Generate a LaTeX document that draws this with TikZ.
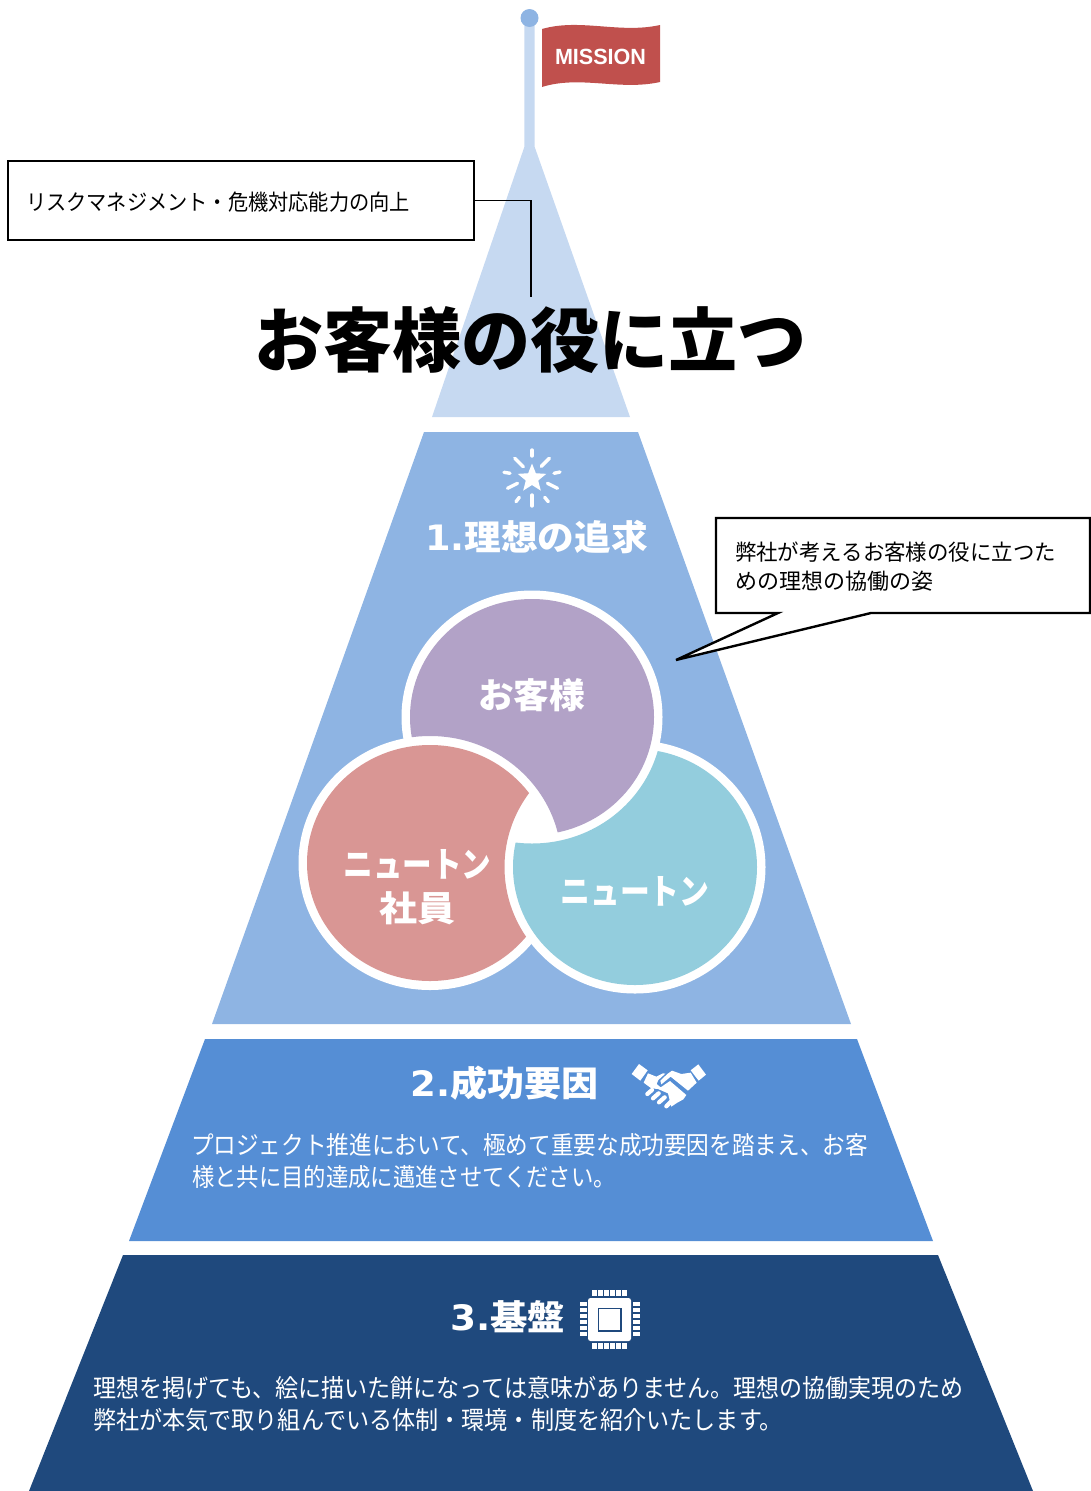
\documentclass[tikz,border=0pt]{standalone}
\usepackage{fontspec}
\usepackage{graphicx}
\usetikzlibrary{shapes.geometric}
\setmainfont{Noto Sans CJK JP}
\newfontfamily\latinb{DejaVu Sans Bold}
\newfontfamily\missionf{Liberation Sans Bold}
\newcommand{\fitw}[2]{\resizebox{#1pt}{\height}{#2}}
\definecolor{cTop}{HTML}{C6D9F1}
\definecolor{cOne}{HTML}{8EB4E3}
\definecolor{cTwo}{HTML}{558ED5}
\definecolor{cThree}{HTML}{1F497D}
\definecolor{cPurple}{HTML}{B2A2C7}
\definecolor{cPink}{HTML}{D99694}
\definecolor{cTeal}{HTML}{93CDDD}
\definecolor{cFlag}{HTML}{C0504D}
\tikzset{
  txt/.style={inner sep=0pt,outer sep=0pt,anchor=center},
  circlab/.style={txt,text=white,font=\fontsize{35}{35}\selectfont\bfseries},
  headlab/.style={txt,text=white,font=\fontsize{35}{35}\selectfont\bfseries},
  para/.style={txt,anchor=west,text=white,font=\fontsize{25}{25}\selectfont},
  note/.style={txt,anchor=west,text=black,font=\fontsize{22}{22}\selectfont},
  ray/.style={white,line width=3.4pt,line cap=round},
  finger/.style={white,line width=4.2pt,line cap=round},
}
\begin{document}
\begin{tikzpicture}[x=1pt,y=-1pt]
\useasboundingbox (0,0) rectangle (1091,1491);
% pyramid
\fill[cTop] (524.3,25) -- (534.7,25) -- (534.7,147) -- (630,417) -- (432,417) -- (524.3,147) -- cycle;
\fill[cOne] (529.5,18) circle[radius=9];
\fill[cOne] (424,432) -- (638,432) -- (851,1024) -- (212,1024) -- cycle;
\fill[cTwo] (205,1039) -- (857,1039) -- (933,1241) -- (129,1241) -- cycle;
\fill[cThree] (123,1255) -- (938,1255) -- (1033,1491) -- (29,1491) -- cycle;
% flag
\fill[cFlag] (542,29) .. controls (580,18) and (620,34) .. (660,25) -- (660,82) .. controls (620,91) and (580,75) .. (542,87) -- cycle;
\node[txt,text=white,font=\missionf\fontsize{22}{22}\selectfont] (mission) at (600.5,56.5) {\fitw{91}{MISSION}};
% callout 1
\node[draw=black,line width=2.4pt,fill=white,minimum width=466pt,minimum height=79pt,inner sep=0pt,outer sep=0pt,anchor=north west] (riskbox) at (8,161) {};
\node[note] (risktext) at (26,202) {\fitw{384}{リスクマネジメント・危機対応能力の向上}};
\coordinate (riskend) at (531,297);
\draw[black,line width=1.8pt] (riskbox.east) -- (riskend |- riskbox.east) -- (riskend);
% title
\node[txt,text=black,font=\fontsize{70}{70}\selectfont\bfseries] (title) at (530.5,340) {\fitw{553}{お客様の役に立つ}};
% callout 2
\fill[white,draw=black,line width=2.4pt,line join=miter] (716,518) -- (1090,518) -- (1090,613) -- (871,613) -- (676,660) -- (778,613) -- (716,613) -- cycle;
\node[note] (cust1) at (735,552) {\fitw{321}{弊社が考えるお客様の役に立つた}};
\node[note] (cust2) at (735,581) {\fitw{198}{めの理想の協働の姿}};
% star icon
\node[star,star points=5,star point ratio=2.3,fill=white,minimum size=30pt,inner sep=0pt] (staricon) at (532,478.5) {};
\foreach \a/\b/\c/\d in {532/450/532/456, 514.7/458.3/523.3/466.7, 549.3/458.3/541.3/466.3, 504/472.3/510/473.3, 554/473.3/560/472, 507.5/488.3/517.5/483.3, 547.5/483.3/557.5/488.3, 516/501.7/519.3/497.3, 544.7/497.3/548.3/501.7, 532/495/532/506}
  \draw[ray] (\a,\b) -- (\c,\d);
% level one heading
\node[headlab] (headone) at (536.5,537) {\fitw{223}{{\latinb 1.}理想の追求}};
% circles: each colour is cut by the white outer edge of the next one
\def\purplepath{(532,717) ellipse[x radius=122,y radius=118]}
\def\pinkpath{(430,863) ellipse[x radius=123,y radius=118]}
\def\tealpath{(635,867) ellipse[x radius=122,y radius=118]}
\def\purpleout{(532,717) ellipse[x radius=130.5,y radius=126.5]}
\def\pinkout{(430,863) ellipse[x radius=131.5,y radius=127]}
\def\tealout{(635,867) ellipse[x radius=130.5,y radius=126.5]}
\fill[white] \tealout; \fill[white] \purpleout; \fill[white] \pinkout;
\begin{scope}[even odd rule]
  \clip (0,0) rectangle (1091,1491) \purpleout;
  \fill[cTeal] \tealpath;
\end{scope}
\begin{scope}[even odd rule]
  \clip (0,0) rectangle (1091,1491) \pinkout;
  \fill[cPurple] \purplepath;
\end{scope}
\begin{scope}[even odd rule]
  \clip (0,0) rectangle (1091,1491) \tealout;
  \fill[cPink] \pinkpath;
\end{scope}
\node[circlab] (cust) at (531.5,695) {\fitw{107}{お客様}};
\node[circlab] (staff1) at (417.5,864) {\fitw{148}{ニュートン}};
\node[circlab] (staff2) at (417,908) {\fitw{76}{社員}};
\node[circlab] (newton) at (635,891) {\fitw{149}{ニュートン}};
% level two
\node[headlab] (headtwo) at (504.5,1083) {\fitw{188}{{\latinb 2.}成功要因}};
\node[para] (two1) at (191,1145) {\fitw{677}{プロジェクト推進において、極めて重要な成功要因を踏まえ、お客}};
\node[para] (two2) at (192,1177) {\fitw{424}{様と共に目的達成に邁進させてください。}};
% handshake icon
\begin{scope}[shift={(628,1060)},x=0.3333pt,y=-0.3333pt]
  \fill[white] (11,42) -- (33,12) -- (59,31) -- (37,62) -- cycle;
  \fill[white] (188,31) -- (211,13) -- (234,44) -- (212,62) -- cycle;
  % left hand and palm
  \fill[white,line join=round] (47,68) -- (60,40) -- (85,50) -- (105,40) -- (112,41) -- (91,60) -- (86,72) -- (98,82) -- (126,63) -- (175,105) -- (166,118) -- (148,128) -- (130,140) -- (120,100) -- (90,87) -- (70,85) -- cycle;
  % right hand
  \fill[white,line join=round] (97,62) -- (118,42) -- (132,32) -- (160,42) -- (188,38) -- (206,68) -- (180,92) -- (128,50) -- (100,73) -- cycle;
  \draw[finger] (58,102) -- (72,90);
  \draw[finger] (75,115) -- (92,100);
  \draw[finger] (93,127) -- (110,112);
  \draw[finger] (115,139) -- (132,122);
\end{scope}
% level three
\node[headlab] (headthree) at (507.5,1317) {\fitw{115}{{\latinb 3.}基盤}};
\node[para] (three1) at (93,1388) {\fitw{871}{理想を掲げても、絵に描いた餅になっては意味がありません。理想の協働実現のため}};
\node[para] (three2) at (93,1420) {\fitw{690}{弊社が本気で取り組んでいる体制・環境・制度を紹介いたします。}};
% chip icon
\fill[white,rounded corners=2.5pt] (588,1298) rectangle (631,1341);
\draw[cThree,line width=1.8pt] (598.4,1308.4) rectangle (620.8,1330.8);
\foreach \i in {0,...,5} {
  \fill[white] ({592.3+\i*6},1290) rectangle ++(4.2,6);
  \fill[white] ({592.3+\i*6},1343) rectangle ++(4.2,6);
  \fill[white] (580,{1302+\i*6}) rectangle ++(6.5,4);
  \fill[white] (633,{1302+\i*6}) rectangle ++(6.5,4);
}
\end{tikzpicture}
\end{document}
